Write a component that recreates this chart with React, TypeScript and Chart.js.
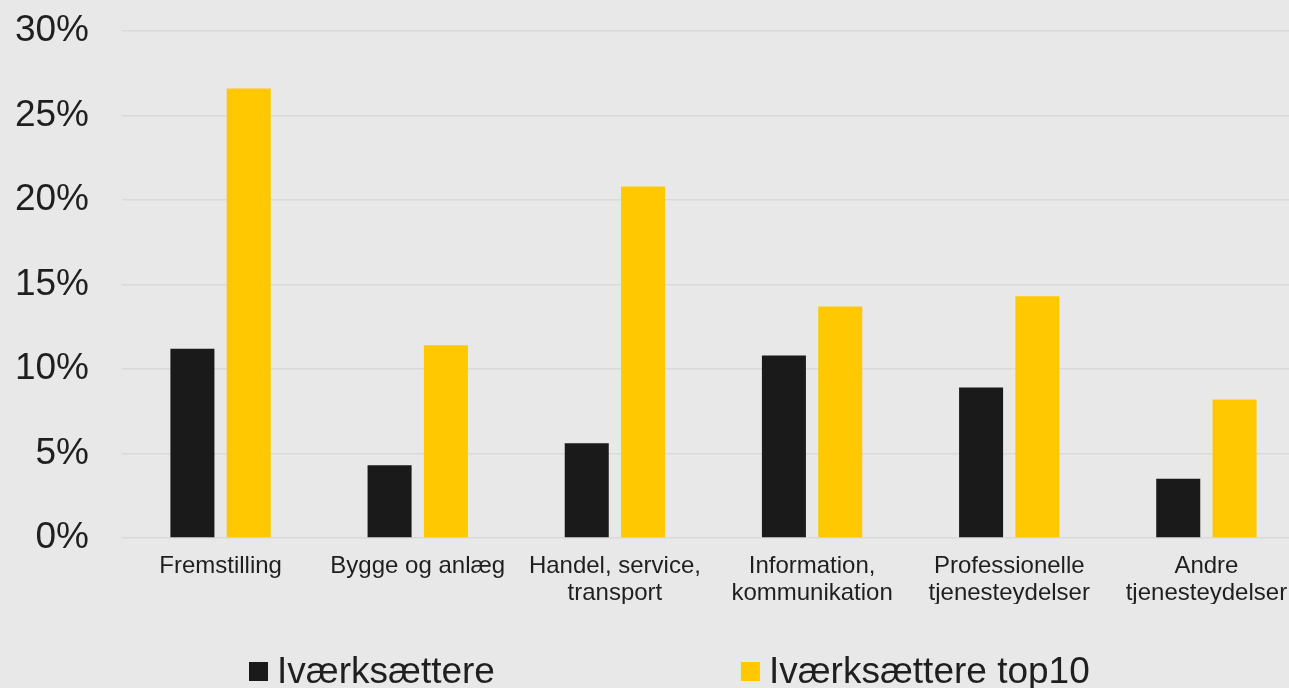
import React, { useEffect, useRef } from "react";
import { Chart, registerables } from "chart.js";

Chart.register(...registerables);

const categories: (string | string[])[] = [
  "Fremstilling",
  "Bygge og anlæg",
  ["Handel, service,", "transport"],
  ["Information,", "kommunikation"],
  ["Professionelle", "tjenesteydelser"],
  ["Andre", "tjenesteydelser"],
];

const seriesNames = ["Iværksættere", "Iværksættere top10"];
const ivaerksaettere = [11.2, 4.3, 5.6, 10.8, 8.9, 3.5];
const ivaerksaettereTop10 = [26.6, 11.4, 20.8, 13.7, 14.3, 8.2];
const seriesColors = ["#1a1a1a", "#ffc800"];

const yMin = 0;
const yMax = 30;
const yStep = 5;

const FONT = '"Liberation Sans", Arial, Helvetica, sans-serif';
const TEXT = "#1f1f1f";

const legendPlugin = {
  id: "bottomLegend",
  afterDraw(chart: any) {
    const ctx = chart.ctx;
    ctx.save();
    ctx.font = `37px ${FONT}`;
    ctx.textBaseline = "alphabetic";
    ctx.textAlign = "left";
    let x = 249;
    const box = 19;
    const boxTop = 662;
    const baseline = 683;
    chart.data.datasets.forEach((ds: any) => {
      ctx.fillStyle = ds.backgroundColor;
      ctx.fillRect(x, boxTop, box, box);
      ctx.fillStyle = TEXT;
      ctx.fillText(ds.label, x + box + 9, baseline);
      const w = ctx.measureText(ds.label).width;
      x += box + 9 + w + 246;
    });
    ctx.restore();
  },
};

export default function App() {
  const ref = useRef<HTMLCanvasElement | null>(null);

  useEffect(() => {
    document.body.style.margin = "0";
    if (!ref.current) return;
    const chart = new Chart(ref.current, {
      type: "bar",
      data: {
        labels: categories,
        datasets: [
          {
            label: seriesNames[0],
            data: ivaerksaettere,
            backgroundColor: seriesColors[0],
            categoryPercentage: 0.5714,
            barPercentage: 0.7815,
          },
          {
            label: seriesNames[1],
            data: ivaerksaettereTop10,
            backgroundColor: seriesColors[1],
            categoryPercentage: 0.5714,
            barPercentage: 0.7815,
          },
        ],
      },
      options: {
        responsive: false,
        animation: false,
        layout: { padding: { left: 15, top: 31, right: 0, bottom: 84 } },
        plugins: {
          legend: { display: false },
          tooltip: { enabled: false },
        },
        scales: {
          x: {
            grid: { display: false, drawTicks: false },
            border: { display: false },
            afterFit: (scale: any) => {
              scale.height = 66;
            },
            ticks: {
              color: TEXT,
              padding: 15,
              maxRotation: 0,
              autoSkip: false,
              font: { family: FONT, size: 24, lineHeight: 1.125 },
            },
          },
          y: {
            min: yMin,
            max: yMax,
            grid: { color: "#d9d9d9", lineWidth: 1.5, drawTicks: false },
            border: { display: false },
            afterFit: (scale: any) => {
              scale.width = 107;
              scale.paddingTop = 0;
              scale.paddingBottom = 0;
            },
            ticks: {
              stepSize: yStep,
              color: TEXT,
              padding: 33,
              font: { family: FONT, size: 37 },
              callback: (v: any) => `${v}%`,
            },
          },
        },
      },
      plugins: [legendPlugin],
    });
    return () => chart.destroy();
  }, []);

  return (
    <div
      style={{
        position: "absolute",
        left: 0,
        top: 0,
        width: 1289,
        height: 688,
        overflow: "hidden",
        background: "#e8e8e8",
      }}
    >
      <canvas ref={ref} width={1305} height={688} style={{ width: 1305, height: 688, display: "block" }} />
    </div>
  );
}
